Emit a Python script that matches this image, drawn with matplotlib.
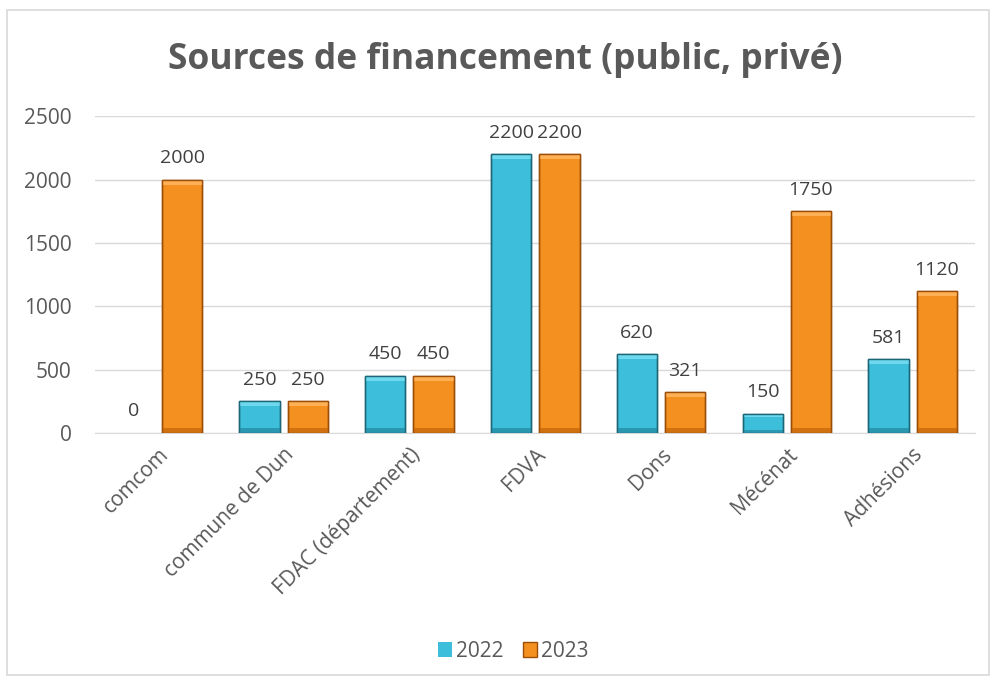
import matplotlib.pyplot as plt
import matplotlib.patches as mpatches
import numpy as np

categories = ["comcom", "commune de Dun", "FDAC (département)", "FDVA", "Dons", "Mécénat", "Adhésions"]
values_2022 = [0, 250, 450, 2200, 620, 150, 581]
values_2023 = [2000, 250, 450, 2200, 321, 1750, 1120]
series = ["2022", "2023"]

plt.rcParams['font.family'] = ['Open Sans', 'DejaVu Sans']

fig = plt.figure(figsize=(9.96, 6.84), dpi=100)
ax = fig.add_axes([0.0954, 0.367, 0.884, 0.463])

# outer chart border
fig.patches.append(mpatches.Rectangle((0.007, 0.013), 0.986, 0.972, transform=fig.transFigure,
                                      fill=False, edgecolor="#D9D9D9", linewidth=1.2))

x = np.arange(len(categories))
w = 0.32
gap = 0.064
face = ["#3DBFDB", "#F4901F"]
edge = ["#1C6677", "#9A4E08"]

bars1 = ax.bar(x - (w + gap) / 2, values_2022, w, color=face[0], edgecolor=edge[0], linewidth=1, zorder=3, label=series[0])
bars2 = ax.bar(x + (w + gap) / 2, values_2023, w, color=face[1], edgecolor=edge[1], linewidth=1, zorder=3, label=series[1])

# simple bevel shading
for bars, c in ((bars1, ["#6DD8EE", "#2A97B0"]), (bars2, ["#FFB055", "#D0700E"])):
    for b in bars:
        h = b.get_height()
        if h <= 0:
            b.set_linewidth(0)
            continue
        bx, bw = b.get_x(), b.get_width()
        ax.add_patch(mpatches.Rectangle((bx, h - min(40, h * 0.15)), bw, min(40, h * 0.15),
                                        facecolor=c[0], edgecolor="none", zorder=3.5))
        ax.add_patch(mpatches.Rectangle((bx, 0), bw, min(40, h * 0.15),
                                        facecolor=c[1], edgecolor="none", zorder=3.5))
        ax.add_patch(mpatches.Rectangle((bx, 0), bw, h, fill=False, edgecolor=b.get_edgecolor(),
                                        linewidth=1, zorder=4))

ax.bar_label(bars1, padding=9, fontsize=14, color="#404040")
ax.bar_label(bars2, padding=9, fontsize=14, color="#404040")

ax.set_ylim(0, 2500)
ax.set_xlim(-0.5, len(categories) - 0.5)
ax.set_yticks(range(0, 2501, 500))
ax.yaxis.grid(True, color="#D9D9D9", linewidth=1, zorder=0)
ax.set_axisbelow(True)
for s in ["top", "right", "left"]:
    ax.spines[s].set_visible(False)
ax.spines["bottom"].set_color("#D9D9D9")
ax.tick_params(length=0, labelsize=15, colors="#595959")
ax.tick_params(axis="y", pad=17)
ax.tick_params(axis="x", pad=8)
ax.set_xticks(x)
ax.set_xticklabels(categories, rotation=45, ha="right", rotation_mode="anchor")

fig.text(0.507, 0.912, "Sources de financement (public, privé)", ha="center", va="center",
         fontsize=25.5, fontweight="bold", color="#595959")

ax.legend(loc="center", bbox_to_anchor=(0.475, -0.69), ncol=2, frameon=False, fontsize=15,
          labelcolor="#595959", handlelength=0.7, handleheight=0.7, handletextpad=0.2, columnspacing=0.9)

fig.savefig("out.png", dpi=100)
